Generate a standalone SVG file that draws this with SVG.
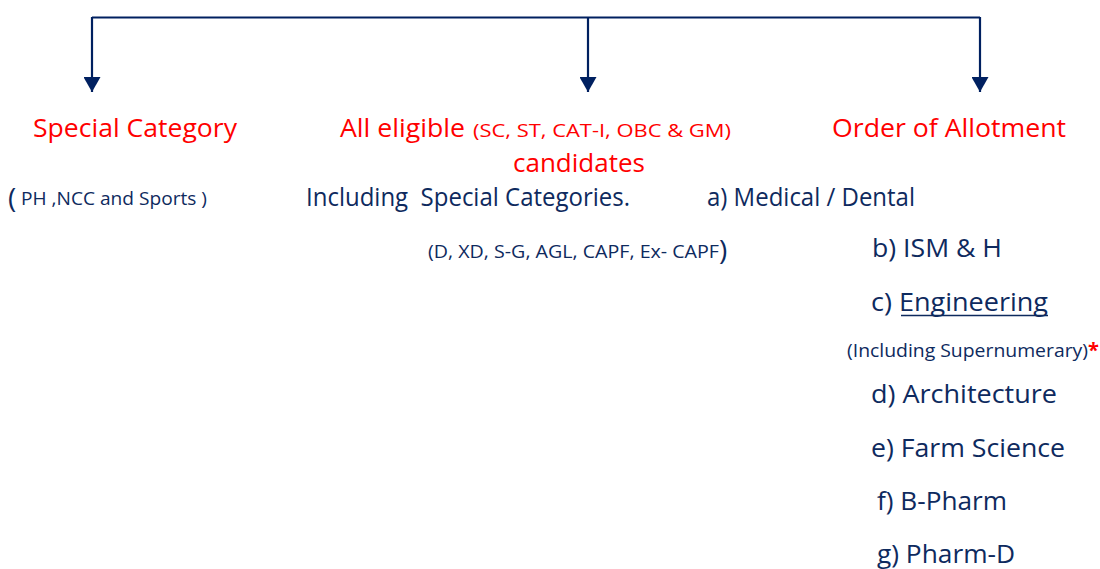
<svg xmlns="http://www.w3.org/2000/svg" width="1100" height="569" viewBox="0 0 1100 569">
<style>
text { font-family: "Open Sans", "Noto Sans", "Liberation Sans", sans-serif; white-space: pre; }
.red { fill: #FF0000; }
.blue { fill: #0E2A5E; }
.h { font-size: 26px; }
.m { font-size: 25px; }
.s { font-size: 17.5px; }
.p { font-size: 28px; }
.conn { stroke: #002060; stroke-width: 2.2; fill: none; }
</style>
<defs>
<marker id="arrow" markerUnits="userSpaceOnUse" markerWidth="17" markerHeight="17" refX="15" refY="8.5" orient="auto">
<path d="M0,0 L15,8.5 L0,17 Z" fill="#002060"/>
</marker>
</defs>
<rect width="1100" height="569" fill="#FFFFFF"/>
<g id="connectors">
<path class="conn" d="M92,17.5 H980"/>
<path class="conn" d="M92,17 V92" marker-end="url(#arrow)"/>
<path class="conn" d="M588,17 V92" marker-end="url(#arrow)"/>
<path class="conn" d="M980,17 V92" marker-end="url(#arrow)"/>
</g>
<g id="node-special">
<text class="red h" x="33" y="137" textLength="204" lengthAdjust="spacingAndGlyphs">Special Category</text>
<text class="blue p" x="8" y="208">(</text>
<text class="blue s" x="21" y="205" textLength="186" lengthAdjust="spacingAndGlyphs">PH ,NCC and Sports )</text>
</g>
<g id="node-eligible">
<text class="red h" x="340" y="137" textLength="125" lengthAdjust="spacingAndGlyphs">All eligible</text>
<text class="red s" x="473" y="137" textLength="258" lengthAdjust="spacingAndGlyphs">(SC, ST, CAT-I, OBC &amp; GM)</text>
<text class="red h" x="513" y="172" textLength="132" lengthAdjust="spacingAndGlyphs">candidates</text>
<text class="blue m" x="306" y="206" textLength="324" lengthAdjust="spacingAndGlyphs">Including  Special Categories.</text>
<text class="blue s" x="428" y="258" textLength="291" lengthAdjust="spacingAndGlyphs">(D, XD, S-G, AGL, CAPF, Ex- CAPF</text>
<text class="blue p" x="719" y="260">)</text>
</g>
<g id="node-order">
<text class="red h" x="832" y="137" textLength="234" lengthAdjust="spacingAndGlyphs">Order of Allotment</text>
<text class="blue m" x="707" y="206" textLength="208" lengthAdjust="spacingAndGlyphs">a) Medical / Dental</text>
<text class="blue m" x="872" y="257" textLength="130" lengthAdjust="spacingAndGlyphs">b) ISM &amp; H</text>
<text class="blue m" x="871" y="311" textLength="177" lengthAdjust="spacingAndGlyphs">c) Engineering</text>
<line x1="901" y1="315.5" x2="1048" y2="315.5" stroke="#0E2A5E" stroke-width="1.5"/>
<text class="blue" style="font-size:18px" x="847" y="357" textLength="241" lengthAdjust="spacingAndGlyphs">(Including Supernumerary)</text>
<text class="red" style="font-size:20px;font-weight:bold" x="1088" y="357">*</text>
<text class="blue m" x="871" y="403" textLength="186" lengthAdjust="spacingAndGlyphs">d) Architecture</text>
<text class="blue m" x="871" y="457" textLength="194" lengthAdjust="spacingAndGlyphs">e) Farm Science</text>
<text class="blue m" x="877" y="510" textLength="130" lengthAdjust="spacingAndGlyphs">f) B-Pharm</text>
<text class="blue m" x="877" y="563" textLength="138" lengthAdjust="spacingAndGlyphs">g) Pharm-D</text>
</g>
</svg>
